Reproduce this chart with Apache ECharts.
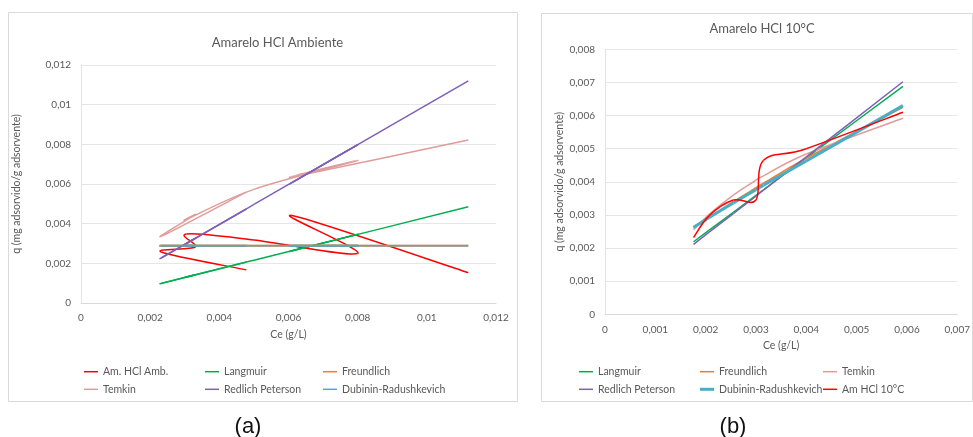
<!DOCTYPE html>
<html>
<head>
<meta charset="utf-8">
<script src="https://cdn.jsdelivr.net/npm/echarts@6/dist/echarts.min.js"></script>
<style>
  html, body { margin: 0; padding: 0; background: #ffffff; }
  #chart { width: 973px; height: 437px; }
</style>
</head>
<body>
<div id="chart"></div>
<script>
// ---- Amarelo HCl Ambiente: Ce (g/L) in sheet order, q (mg adsorvido/g adsorvente) ----
const ceAmb    = [0.00478, 0.00232, 0.00330, 0.00305, 0.00500, 0.00800, 0.00610, 0.01120];
const qExpAmb  = [0.00167, 0.00257, 0.00282, 0.00348, 0.00318, 0.00250, 0.00441, 0.00153];
const qLangAmb = [0.00206, 0.00099, 0.00142, 0.00131, 0.00216, 0.00346, 0.00263, 0.00485];
const qFreuAmb = [0.00289, 0.00289, 0.00289, 0.00289, 0.00289, 0.00289, 0.00289, 0.00289];
const qTemkAmb = [0.00559, 0.00336, 0.00445, 0.00421, 0.00573, 0.00718, 0.00635, 0.00822];
const qRPAmb   = [0.00474, 0.00227, 0.00326, 0.00300, 0.00497, 0.00798, 0.00607, 0.01120];
const qDRAmb   = [0.00289, 0.00289, 0.00289, 0.00289, 0.00289, 0.00289, 0.00289, 0.00289];

// ---- Amarelo HCl 10°C ----
const ce10    = [0.00176, 0.00207, 0.00255, 0.00300, 0.00315, 0.00400, 0.00592];
const qExp10  = [0.00232, 0.00298, 0.00345, 0.00345, 0.00465, 0.00500, 0.00610];
const qLang10 = [0.00219, 0.00254, 0.00308, 0.00359, 0.00376, 0.00472, 0.00688];
const qFreu10 = [0.00260, 0.00292, 0.00340, 0.00382, 0.00396, 0.00471, 0.00625];
const qTemk10 = [0.00255, 0.00302, 0.00360, 0.00405, 0.00418, 0.00484, 0.00592];
const qRP10   = [0.00211, 0.00248, 0.00304, 0.00357, 0.00375, 0.00475, 0.00702];
const qDR10   = [0.00263, 0.00292, 0.00336, 0.00376, 0.00390, 0.00463, 0.00630];

// Axis ranges
const xAmb = { max: 0.012, step: 0.002 };
const yAmb = { max: 0.012, step: 0.002 };
const x10  = { max: 0.007, step: 0.001 };
const y10  = { max: 0.008, step: 0.001 };

const FONT = 'Lato, Carlito, "Open Sans", sans-serif';
const TXT = '#595959';
const COLORS = {
  exp: '#ff0000', lang: '#00b050', freu: '#ed7d31',
  temk: '#e09c9a', rp: '#7f60b8', dr: '#4bacc6'
};
// Spreadsheet-style smoothing: cubic segments with Catmull-Rom tangents
const TENSION = 1 / 6;

const pairs = (xs, ys) => xs.map((x, i) => [x, ys[i]]);
const commaFmt = v => (v === 0 ? '0' : String(+v.toFixed(6)).replace('.', ','));

function xAxisCfg(grid, r) {
  return {
    type: 'value', gridIndex: grid, min: 0, max: r.max, interval: r.step,
    name: 'Ce (g/L)', nameLocation: 'middle', nameGap: 26,
    nameTextStyle: { color: TXT, fontSize: 10.5, fontFamily: FONT },
    axisLine: { show: true, lineStyle: { color: '#d9d9d9', width: 1 } },
    axisTick: { show: false },
    splitLine: { show: false },
    axisLabel: { color: TXT, fontSize: 10, fontFamily: FONT, margin: 10, formatter: commaFmt }
  };
}
function yAxisCfg(grid, r, gap) {
  return {
    type: 'value', gridIndex: grid, min: 0, max: r.max, interval: r.step,
    name: 'q (mg adsorvido/g adsorvente)', nameLocation: 'middle', nameGap: gap,
    nameRotate: 90,
    nameTextStyle: { color: TXT, fontSize: 10.5, fontFamily: FONT },
    axisLine: { show: true, lineStyle: { color: '#e3e3e3', width: 1 } },
    axisTick: { show: false },
    splitLine: { show: true, lineStyle: { color: '#e6e6e6', width: 1 } },
    axisLabel: { color: TXT, fontSize: 10, fontFamily: FONT, margin: 10, formatter: commaFmt }
  };
}

// Each data item draws the smoothed segment from itself to the next point,
// with every point placed through the axes of its grid.
function curveSeries(name, grid, xs, ys, color, width, opacity) {
  const n = xs.length;
  return {
    type: 'custom', name: name, coordinateSystem: 'cartesian2d',
    xAxisIndex: grid, yAxisIndex: grid,
    data: pairs(xs, ys), encode: { x: 0, y: 1 },
    itemStyle: { color: color }, silent: true, animation: false,
    renderItem: function (params, api) {
      const i = params.dataIndex;
      if (i >= n - 1) return null;
      const pt = k => {
        const j = Math.max(0, Math.min(n - 1, k));
        return api.coord([xs[j], ys[j]]);
      };
      const p0 = pt(i - 1), p1 = pt(i), p2 = pt(i + 1), p3 = pt(i + 2);
      return {
        type: 'bezierCurve',
        shape: {
          x1: p1[0], y1: p1[1], x2: p2[0], y2: p2[1],
          cpx1: p1[0] + (p2[0] - p0[0]) * TENSION,
          cpy1: p1[1] + (p2[1] - p0[1]) * TENSION,
          cpx2: p2[0] - (p3[0] - p1[0]) * TENSION,
          cpy2: p2[1] - (p3[1] - p1[1]) * TENSION
        },
        style: { stroke: color, lineWidth: width, fill: null, opacity: opacity == null ? 1 : opacity }
      };
    }
  };
}

// Series of the second panel carry a "#b" key so each legend only lists its own lines
const labelOf = n => n.split('#')[0];
const THIN = 'path://M0,0H14V1.5H0Z';
const THICK = 'path://M0,0H14V3H0Z';
function legendCol(items, left, top) {
  return {
    orient: 'vertical', left: left, top: top, padding: 0,
    itemWidth: 14, itemHeight: 12, itemGap: 5.6, selectedMode: false,
    symbolKeepAspect: true,
    data: items.map(it => (typeof it === 'string' ? { name: it, icon: THIN } : it)),
    formatter: labelOf,
    textStyle: { color: TXT, fontSize: 10.5, fontFamily: FONT, lineHeight: 12 }
  };
}
function text(str, x, y, size, color, family) {
  return {
    type: 'text', silent: true,
    style: {
      text: str, x: x, y: y, font: size + 'px ' + family, fill: color,
      align: 'center', textAlign: 'center', verticalAlign: 'middle', textVerticalAlign: 'middle'
    }
  };
}

const chart = echarts.init(document.getElementById('chart'), null, { renderer: 'canvas' });
chart.setOption({
  animation: false,
  backgroundColor: '#ffffff',
  grid: [
    { left: 81, top: 65, width: 415, height: 238 },
    { left: 605, top: 49.3, width: 355, height: 265 }
  ],
  xAxis: [xAxisCfg(0, xAmb), xAxisCfg(1, x10)],
  yAxis: [yAxisCfg(0, yAmb, 59), yAxisCfg(1, y10, 40)],
  legend: [
    legendCol(['Am. HCl Amb.', 'Temkin'], 84, 365.7),
    legendCol(['Langmuir', 'Redlich Peterson'], 205, 365.7),
    legendCol(['Freundlich', 'Dubinin-Radushkevich'], 323, 365.7),
    legendCol(['Langmuir#b', 'Redlich Peterson#b'], 579, 365.7),
    legendCol(['Freundlich#b', { name: 'Dubinin-Radushkevich#b', icon: THICK }], 700, 365.7),
    legendCol(['Temkin#b', 'Am HCl 10°C#b'], 823, 365.7)
  ],
  series: [
    curveSeries('Am. HCl Amb.', 0, ceAmb, qExpAmb, COLORS.exp, 1.5),
    curveSeries('Langmuir', 0, ceAmb, qLangAmb, COLORS.lang, 1.5),
    curveSeries('Freundlich', 0, ceAmb, qFreuAmb, COLORS.freu, 2),
    curveSeries('Temkin', 0, ceAmb, qTemkAmb, COLORS.temk, 1.5),
    curveSeries('Redlich Peterson', 0, ceAmb, qRPAmb, COLORS.rp, 1.5),
    curveSeries('Dubinin-Radushkevich', 0, ceAmb, qDRAmb, COLORS.dr, 2, 0.6),

    curveSeries('Langmuir#b', 1, ce10, qLang10, COLORS.lang, 1.5),
    curveSeries('Freundlich#b', 1, ce10, qFreu10, COLORS.freu, 1.5),
    curveSeries('Temkin#b', 1, ce10, qTemk10, COLORS.temk, 1.5),
    curveSeries('Redlich Peterson#b', 1, ce10, qRP10, COLORS.rp, 1.5),
    curveSeries('Dubinin-Radushkevich#b', 1, ce10, qDR10, COLORS.dr, 3),
    curveSeries('Am HCl 10°C#b', 1, ce10, qExp10, COLORS.exp, 1.5)
  ],
  graphic: [
    { type: 'rect', silent: true, z: -1, shape: { x: 8.5, y: 12.5, width: 509, height: 389 },
      style: { fill: 'none', stroke: '#d9d9d9', lineWidth: 1 } },
    { type: 'rect', silent: true, z: -1, shape: { x: 541.5, y: 13.5, width: 431, height: 388 },
      style: { fill: 'none', stroke: '#d9d9d9', lineWidth: 1 } },
    text('Amarelo HCl Ambiente', 277.5, 42.7, 13, TXT, FONT),
    text('Amarelo HCl 10°C', 762, 29.3, 13, TXT, FONT),
    text('(a)', 248, 426.5, 22, '#111111', '"Liberation Sans", Arial, sans-serif'),
    text('(b)', 733, 426.5, 22, '#111111', '"Liberation Sans", Arial, sans-serif')
  ]
});
</script>
</body>
</html>
